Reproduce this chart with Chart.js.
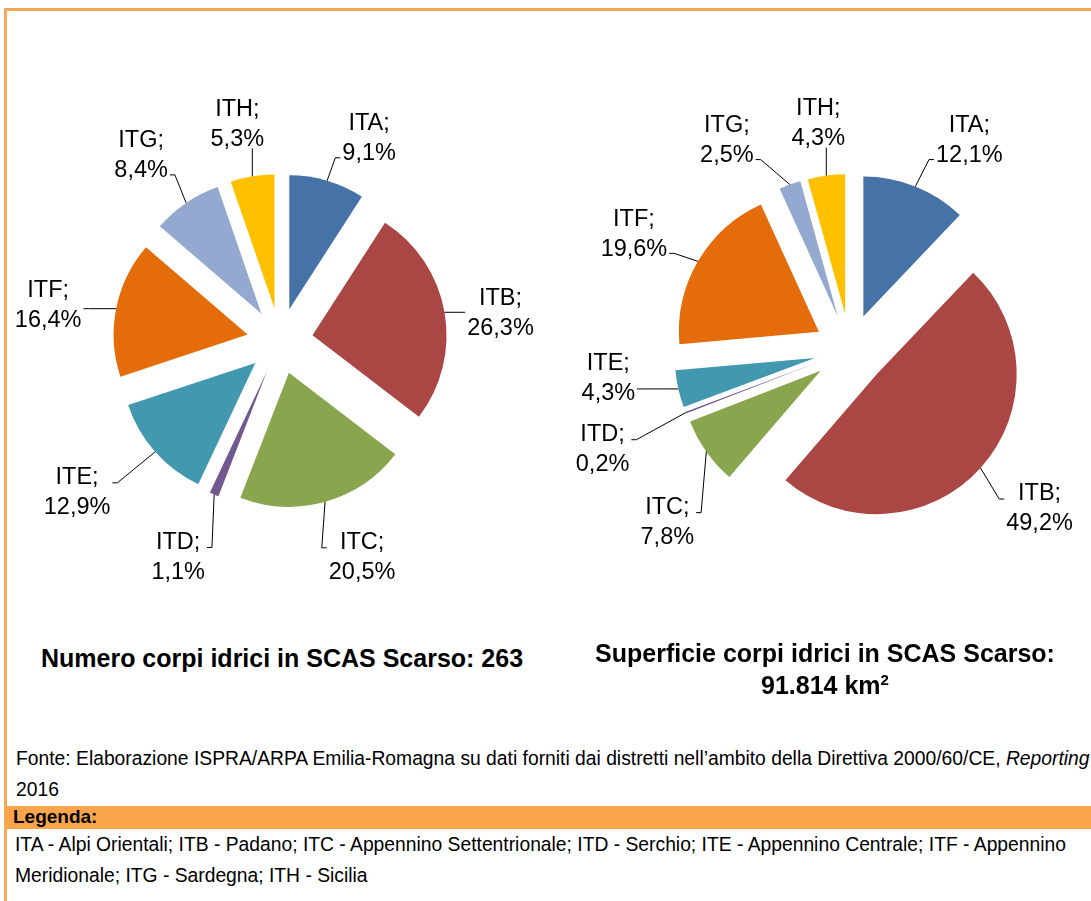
<!DOCTYPE html>
<html lang="it">
<head>
<meta charset="utf-8">
<title>Corpi idrici in SCAS Scarso per distretto</title>
<script src="https://cdn.jsdelivr.net/npm/chart.js@4.4.1/dist/chart.umd.min.js"></script>
<style>
  html, body { margin: 0; padding: 0; }
  body {
    width: 1091px; height: 901px; overflow: hidden; position: relative;
    background: #fff; color: #000;
    font-family: "Liberation Sans", Arial, sans-serif;
  }
  .frame {
    position: absolute; left: 4px; top: 8px; width: 1200px; height: 1000px;
    border-top: 3px solid #F8A75A; border-left: 3px solid #F8A75A; box-sizing: border-box;
  }
  canvas { position: absolute; }
  #pie1 { left: 0; top: 60px; }
  #pie2 { left: 560px; top: 60px; }
  .t { position: absolute; white-space: nowrap; line-height: 1; }
  .title { font-weight: bold; font-size: 25px; text-align: center; }
  .note { font-size: 19.3px; }
  .bar { position: absolute; left: 4px; top: 806px; width: 1200px; height: 23px; background: #F9A54B; }
  sup { font-size: 15px; vertical-align: 9px; line-height: 0; }
</style>
</head>
<body>
<div class="frame"></div>

<canvas id="pie1" width="560" height="562"></canvas>
<canvas id="pie2" width="580" height="580"></canvas>

<div class="t title" style="left:-18px; width:600px; top:646px;">Numero corpi idrici in SCAS Scarso: 263</div>
<div class="t title" style="left:525px; width:600px; top:641px;">Superficie corpi idrici in SCAS Scarso:</div>
<div class="t title" style="left:525px; width:600px; top:673px;">91.814 km<sup>2</sup></div>

<div class="t note" style="left:16px; top:749px;">Fonte: Elaborazione ISPRA/ARPA Emilia-Romagna su dati forniti dai distretti nell’ambito della Direttiva 2000/60/CE, <i>Reporting</i></div>
<div class="t note" style="left:16px; top:780px;">2016</div>
<div class="bar"></div>
<div class="t note" style="left:13px; top:807px; font-weight:bold; font-size:19px;">Legenda:</div>
<div class="t note" style="left:15px; top:835px;">ITA - Alpi Orientali; ITB - Padano; ITC - Appennino Settentrionale; ITD - Serchio; ITE - Appennino Centrale; ITF - Appennino</div>
<div class="t note" style="left:15px; top:866px;">Meridionale; ITG - Sardegna; ITH - Sicilia</div>

<script>
// Distretti idrografici
const categories = ['ITA', 'ITB', 'ITC', 'ITD', 'ITE', 'ITF', 'ITG', 'ITH'];
// Quota (%) del numero di corpi idrici in SCAS Scarso
const numeroCorpiPct = [9.1, 26.3, 20.5, 1.1, 12.9, 16.4, 8.4, 5.3];
// Quota (%) della superficie dei corpi idrici in SCAS Scarso
const superficiePct = [12.1, 49.2, 7.8, 0.2, 4.3, 19.6, 2.5, 4.3];

const sliceColors = ['#4572A7', '#AA4643', '#89A54E', '#71588F', '#4198AF', '#E46C0A', '#93A9CF', '#FFC000'];

// label block placement relative to each slice's outer mid point
const labelShiftNumero = [[42, -44], [56, -1], [37, 54], [-36, 61], [-78, 39], [-68, -5], [-45, -49], [-15, -54]];
const labelShiftSuperficie = [[54, -48], [59, 39], [-39, 69], [-83, 35], [-70, -12], [-64, -29], [-63, -46], [-8, -54]];

const fmtPct = v => v.toFixed(1).replace('.', ',') + '%';

// moves every slice outward along its bisector (exploded pie)
function explodeSlices(distance) {
  return {
    id: 'explodeSlices',
    afterDatasetUpdate(chart, args) {
      args.meta.data.forEach(arc => {
        const mid = (arc.startAngle + arc.endAngle) / 2;
        arc.x += Math.cos(mid) * distance;
        arc.y += Math.sin(mid) * distance;
      });
    }
  };
}

// "ITx; nn,n%" labels with leader lines
function sliceLabels(shifts) {
  return {
    id: 'sliceLabels',
    afterDatasetsDraw(chart) {
      const ctx = chart.ctx;
      const meta = chart.getDatasetMeta(0);
      const values = chart.data.datasets[0].data;
      ctx.save();
      ctx.font = '23.5px "Liberation Sans", Arial, sans-serif';
      ctx.fillStyle = '#000';
      ctx.strokeStyle = '#000';
      ctx.lineWidth = 1;
      ctx.textAlign = 'center';
      ctx.textBaseline = 'alphabetic';
      meta.data.forEach((arc, i) => {
        const mid = (arc.startAngle + arc.endAngle) / 2;
        const ax = arc.x + Math.cos(mid) * arc.outerRadius;
        const ay = arc.y + Math.sin(mid) * arc.outerRadius;
        const cx = ax + shifts[i][0];
        const cy = ay + shifts[i][1];
        const lines = [chart.data.labels[i] + ';', fmtPct(values[i])];
        const w = Math.max(...lines.map(l => ctx.measureText(l).width));
        const left = cx - w / 2 - 2, right = cx + w / 2 + 2;
        const top = cy - 23, bottom = cy + 23;
        ctx.beginPath();
        if (ax >= left && ax <= right) {
          ctx.moveTo(ax, ay);
          ctx.lineTo(ax, ay < top ? top - 3 : bottom + 3);
        } else {
          const side = ax < left ? left : right;
          const dir = ax < left ? -1 : 1;
          const ey = Math.min(Math.max(ay, top + 15), bottom - 2);
          ctx.moveTo(ax, ay);
          ctx.lineTo(side + dir * 5, ey);
          ctx.lineTo(side, ey);
        }
        ctx.stroke();
        ctx.fillText(lines[0], cx, cy - 6.7);
        ctx.fillText(lines[1], cx, cy + 23.3);
      });
      ctx.restore();
    }
  };
}

function makePie(id, values, radius, explode, shifts) {
  return new Chart(document.getElementById(id), {
    type: 'pie',
    data: {
      labels: categories,
      datasets: [{ data: values, backgroundColor: sliceColors, borderWidth: 0, hoverOffset: 0 }]
    },
    options: {
      responsive: false,
      animation: false,
      events: [],
      radius: radius,
      layout: { padding: 0 },
      plugins: { legend: { display: false }, tooltip: { enabled: false } }
    },
    plugins: [explodeSlices(explode), sliceLabels(shifts)]
  });
}

makePie('pie1', numeroCorpiPct, 134, 33, labelShiftNumero);
makePie('pie2', superficiePct, 140, 36, labelShiftSuperficie);
</script>
</body>
</html>
